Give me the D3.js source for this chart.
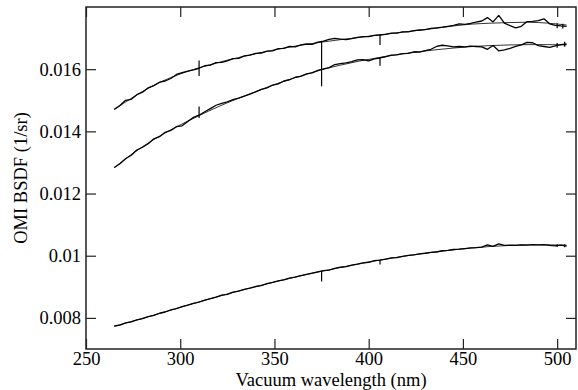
<!DOCTYPE html>
<html lang="en">
  <head>
    <meta charset="UTF-8" />
    <title>OMI BSDF</title>
    <script src="https://cdn.jsdelivr.net/npm/d3@7/dist/d3.min.js"></script>
    <style>
      body { margin: 0; background: #fff; }
      text { font-family: "Liberation Serif", "Times New Roman", serif; fill: #000; }
    </style>
  </head>
  <body>
    <script>
      // measured spectra, 3 nm grid
      const wl = d3.range(265, 506, 3);
      const measA = [
        0.01471, 0.01483, 0.01500, 0.01503, 0.01518, 0.01526, 0.01540, 0.01547, 0.01558, 0.01562,
        0.01570, 0.01583, 0.01589, 0.01594, 0.01598, 0.01603, 0.01611, 0.01613, 0.01621, 0.01622,
        0.01627, 0.01634, 0.01635, 0.01643, 0.01645, 0.01651, 0.01652, 0.01658, 0.01659, 0.01666,
        0.01667, 0.01673, 0.01672, 0.01678, 0.01681, 0.01680, 0.01687, 0.01690, 0.01696, 0.01699,
        0.01697, 0.01695, 0.01698, 0.01702, 0.01705, 0.01705, 0.01709, 0.01710, 0.01712, 0.01716,
        0.01716, 0.01720, 0.01720, 0.01724, 0.01726, 0.01727, 0.01731, 0.01733, 0.01735, 0.01738,
        0.01741, 0.01746, 0.01744, 0.01747, 0.01751, 0.01755, 0.01766, 0.01752, 0.01773, 0.01748,
        0.01740, 0.01733, 0.01738, 0.01753, 0.01754, 0.01756, 0.01762, 0.01746, 0.01741, 0.01739,
        0.01738
      ];
      const measB = [
        0.01284, 0.01296, 0.01312, 0.01323, 0.01340, 0.01349, 0.01360, 0.01376, 0.01383, 0.01397,
        0.01403, 0.01415, 0.01418, 0.01432, 0.01445, 0.01452, 0.01463, 0.01473, 0.01484, 0.01490,
        0.01495, 0.01502, 0.01507, 0.01513, 0.01520, 0.01527, 0.01535, 0.01540, 0.01549, 0.01553,
        0.01562, 0.01566, 0.01574, 0.01577, 0.01585, 0.01588, 0.01596, 0.01601, 0.01605, 0.01615,
        0.01618, 0.01620, 0.01624, 0.01630, 0.01631, 0.01627, 0.01633, 0.01636, 0.01640, 0.01645,
        0.01646, 0.01650, 0.01651, 0.01656, 0.01655, 0.01660, 0.01664, 0.01673, 0.01677, 0.01675,
        0.01672, 0.01673, 0.01672, 0.01674, 0.01673, 0.01672, 0.01664, 0.01676, 0.01659, 0.01662,
        0.01667, 0.01673, 0.01678, 0.01686, 0.01685, 0.01676, 0.01673, 0.01670, 0.01675, 0.01679,
        0.01681
      ];
      const measC = [
        0.00774, 0.00777, 0.00784, 0.00787, 0.00794, 0.00798, 0.00804, 0.00808, 0.00815, 0.00819,
        0.00826, 0.00830, 0.00836, 0.00841, 0.00847, 0.00851, 0.00857, 0.00862, 0.00867, 0.00873,
        0.00876, 0.00883, 0.00886, 0.00892, 0.00896, 0.00901, 0.00904, 0.00910, 0.00914, 0.00919,
        0.00922, 0.00928, 0.00931, 0.00936, 0.00940, 0.00944, 0.00948, 0.00952, 0.00954, 0.00959,
        0.00963, 0.00965, 0.00970, 0.00973, 0.00977, 0.00979, 0.00984, 0.00986, 0.00989, 0.00993,
        0.00994, 0.00998, 0.01001, 0.01003, 0.01006, 0.01008, 0.01011, 0.01012, 0.01016, 0.01017,
        0.01020, 0.01021, 0.01023, 0.01025, 0.01026, 0.01028, 0.01035, 0.01030, 0.01038, 0.01033,
        0.01034, 0.01033, 0.01035, 0.01034, 0.01036, 0.01035, 0.01036, 0.01033, 0.01032, 0.01034,
        0.01031
      ];

      // smooth fits, 10 nm grid
      const fitWl = d3.range(265, 506, 10);
      const fitA = [
        0.01470, 0.01510, 0.01545, 0.01573, 0.01595, 0.01613, 0.01629, 0.01643, 0.01656, 0.01668,
        0.01678, 0.01687, 0.01695, 0.01702, 0.01710, 0.01717, 0.01724, 0.01731, 0.01739, 0.01745,
        0.01748, 0.01750, 0.01751, 0.01748, 0.01742
      ];
      const fitB = [
        0.01283, 0.01330, 0.01370, 0.01405, 0.01436, 0.01465, 0.01492, 0.01516, 0.01539, 0.01561,
        0.01580, 0.01598, 0.01613, 0.01626, 0.01637, 0.01647, 0.01655, 0.01662, 0.01668, 0.01673,
        0.01676, 0.01678, 0.01679, 0.01679, 0.01678
      ];
      const fitC = [
        0.00773, 0.00790, 0.00807, 0.00825, 0.00843, 0.00860, 0.00877, 0.00893, 0.00908, 0.00923,
        0.00937, 0.00950, 0.00962, 0.00974, 0.00985, 0.00995, 0.01004, 0.01012, 0.01019, 0.01025,
        0.01030, 0.01033, 0.01035, 0.01035, 0.01034
      ];

      // glitches in the measurements: [wavelength, from, to]
      const spikes = [
        [310, 0.01628, 0.01578], [406, 0.01710, 0.01678],
        [310, 0.01480, 0.01443], [375, 0.01690, 0.01545], [406, 0.01636, 0.01611],
        [375, 0.00951, 0.00917], [406, 0.00986, 0.00972],
        [500, 0.01748, 0.01732], [503, 0.01746, 0.01731],
        [500, 0.01684, 0.01669], [504, 0.01688, 0.01672],
        [500, 0.01037, 0.01028], [504, 0.01037, 0.01027]
      ];

      const xTicks = [250, 300, 350, 400, 450, 500];
      const yTicks = [0.008, 0.01, 0.012, 0.014, 0.016];

      const width = 578;
      const height = 390;
      const m = { left: 86, right: 2, top: 7, bottom: 41 };

      const svg = d3
        .select("body")
        .append("svg")
        .attr("width", width)
        .attr("height", height);

      const x = d3
        .scaleLinear()
        .domain([250, 510])
        .range([m.left, width - m.right]);
      const y = d3
        .scaleLinear()
        .domain([0.007, 0.018])
        .range([height - m.bottom, m.top]);

      const fmt = (d) => String(+d.toFixed(3));
      const tl = 10;

      // axes with inward ticks on all four sides
      svg.append("g")
        .attr("transform", `translate(0,${y(0.007)})`)
        .call(d3.axisBottom(x).tickValues(xTicks).tickSize(-tl).tickPadding(3).tickFormat(d3.format("d")));
      svg.append("g")
        .attr("transform", `translate(0,${y(0.018)})`)
        .call(d3.axisTop(x).tickValues(xTicks).tickSize(-tl).tickFormat(""));
      svg.append("g")
        .attr("transform", `translate(${x(250)},0)`)
        .call(d3.axisLeft(y).tickValues(yTicks).tickSize(-tl).tickPadding(5).tickFormat(fmt));
      svg.append("g")
        .attr("transform", `translate(${x(510)},0)`)
        .call(d3.axisRight(y).tickValues(yTicks).tickSize(-tl).tickFormat(""));

      svg.selectAll(".domain").remove();
      svg.selectAll(".tick line").attr("stroke", "#222").attr("stroke-width", 1.2);
      svg.selectAll(".tick text").style("font-size", "18.5px").style("font-family", "Liberation Serif");

      svg.append("rect")
        .attr("x", x(250))
        .attr("y", y(0.018))
        .attr("width", x(510) - x(250))
        .attr("height", y(0.007) - y(0.018))
        .attr("fill", "none")
        .attr("stroke", "#222")
        .attr("stroke-width", 1.5);

      // fits (thin)
      const fitLine = d3.line()
        .x((d, i) => x(fitWl[i]))
        .y((d) => y(d))
        .curve(d3.curveMonotoneX);
      [fitA, fitB, fitC].forEach((s) => {
        svg.append("path")
          .datum(s)
          .attr("fill", "none")
          .attr("stroke", "#000")
          .attr("stroke-width", 0.8)
          .attr("d", fitLine);
      });

      // measurements
      const measLine = d3.line()
        .x((d, i) => x(wl[i]))
        .y((d) => y(d));
      [measA, measB, measC].forEach((s) => {
        svg.append("path")
          .datum(s)
          .attr("fill", "none")
          .attr("stroke", "#000")
          .attr("stroke-width", 1.3)
          .attr("stroke-linejoin", "round")
          .attr("d", measLine);
      });

      svg.selectAll("line.spike")
        .data(spikes)
        .enter()
        .append("line")
        .attr("class", "spike")
        .attr("x1", (d) => x(d[0]))
        .attr("x2", (d) => x(d[0]))
        .attr("y1", (d) => y(d[1]))
        .attr("y2", (d) => y(d[2]))
        .attr("stroke", "#000")
        .attr("stroke-width", 1.2);

      // titles
      svg.append("text")
        .attr("x", (x(250) + x(510)) / 2)
        .attr("y", 386)
        .attr("text-anchor", "middle")
        .style("font-size", "18.5px")
        .text("Vacuum wavelength (nm)");
      svg.append("text")
        .attr("transform", `translate(27,${(y(0.007) + y(0.018)) / 2}) rotate(-90)`)
        .attr("text-anchor", "middle")
        .style("font-size", "18.5px")
        .text("OMI BSDF (1/sr)");
    </script>
  </body>
</html>
